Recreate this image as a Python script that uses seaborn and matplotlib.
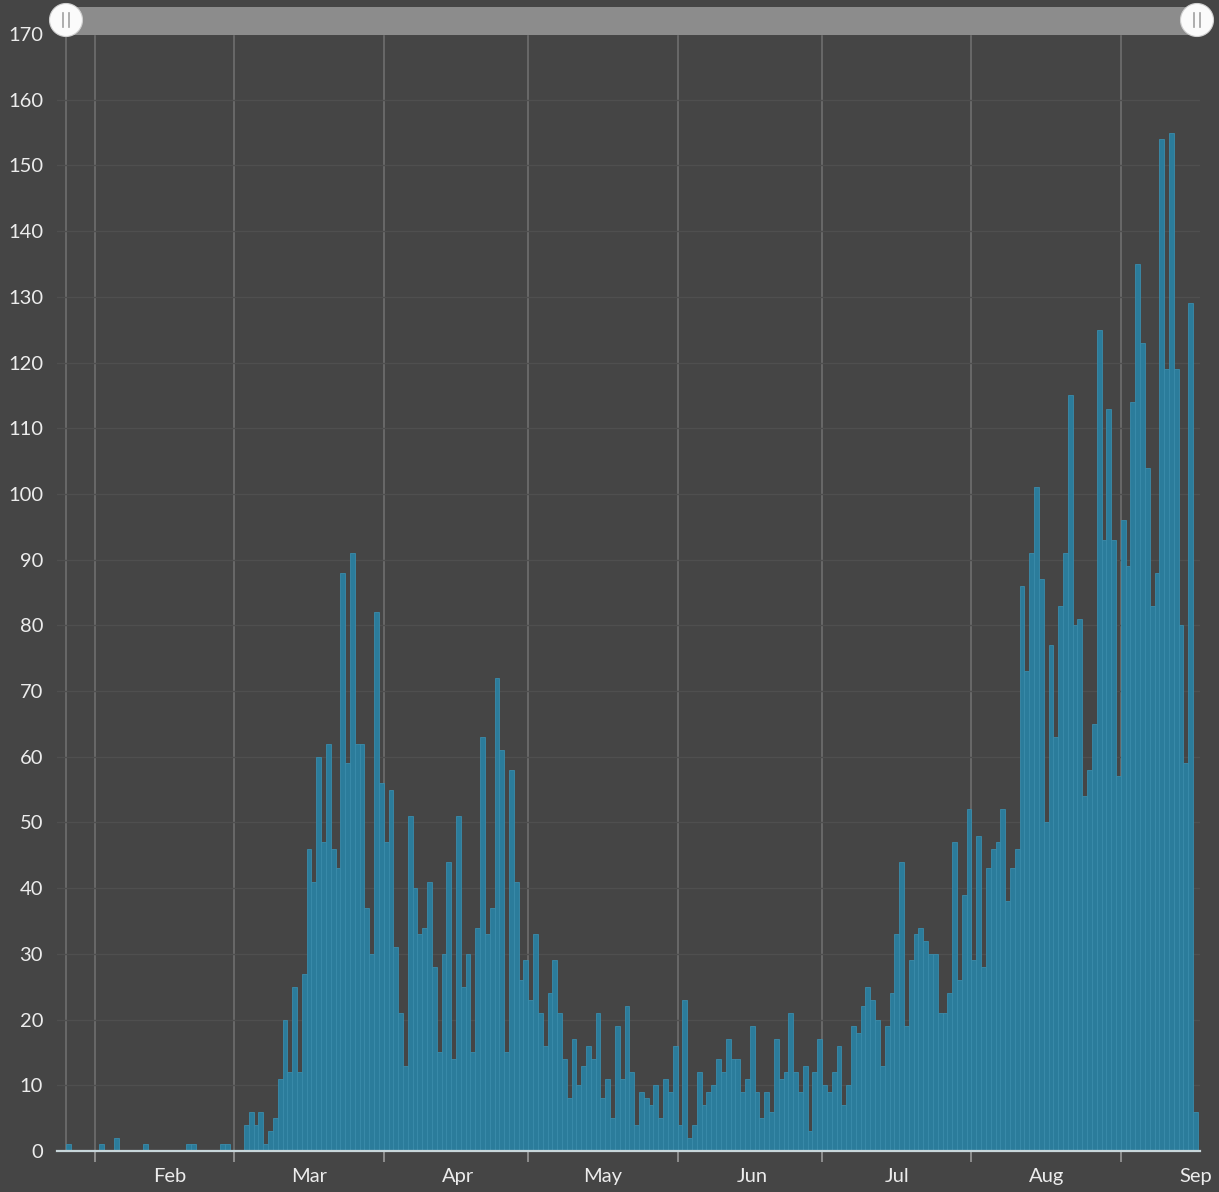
import numpy as np
import pandas as pd
import matplotlib
matplotlib.use("Agg")
import matplotlib.pyplot as plt
import seaborn as sns
from matplotlib.patches import Rectangle, Circle
from matplotlib.lines import Line2D

# ---------------- data (daily counts, 26 Jan - 16 Sep) ----------------
start_date = "2020-01-26"
jan = [1, 0, 0, 0, 0, 0]
feb = [0, 1, 0, 0, 2, 0, 0, 0, 0, 0, 1, 0, 0, 0, 0, 0, 0, 0, 0, 1, 1, 0, 0, 0, 0, 0, 1, 1, 0]
mar = [0, 0, 4, 6, 4, 6, 1, 3, 5, 11, 20, 12, 25, 12, 27, 46, 41, 60, 47, 62, 46, 43, 88, 59, 91, 62, 62, 37, 30, 82, 56]
apr = [47, 55, 31, 21, 13, 51, 40, 33, 34, 41, 28, 15, 30, 44, 14, 51, 25, 30, 15, 34, 63, 33, 37, 72, 61, 15, 58, 41, 26, 29]
may = [23, 33, 21, 16, 24, 29, 21, 14, 8, 17, 10, 13, 16, 14, 21, 8, 11, 5, 19, 11, 22, 12, 4, 9, 8, 7, 10, 5, 11, 9, 16]
jun = [4, 23, 2, 4, 12, 7, 9, 10, 14, 12, 17, 14, 14, 9, 11, 19, 9, 5, 9, 6, 17, 11, 12, 21, 12, 9, 13, 3, 12, 17]
jul = [10, 9, 12, 16, 7, 10, 19, 18, 22, 25, 23, 20, 13, 19, 24, 33, 44, 19, 29, 33, 34, 32, 30, 30, 21, 21, 24, 47, 26, 39, 52]
aug = [29, 48, 28, 43, 46, 47, 52, 38, 43, 46, 86, 73, 91, 101, 87, 50, 77, 63, 83, 91, 115, 80, 81, 54, 58, 65, 125, 93, 113, 93, 57]
sep = [96, 89, 114, 135, 123, 104, 83, 88, 154, 119, 155, 119, 80, 59, 129, 6]

month_labels = ["Feb", "Mar", "Apr", "May", "Jun", "Jul", "Aug", "Sep"]
month_starts = ["2020-02-01", "2020-03-01", "2020-04-01", "2020-05-01",
                "2020-06-01", "2020-07-01", "2020-08-01", "2020-09-01"]
label_days = ["2020-02-16", "2020-03-16", "2020-04-16", "2020-05-16",
              "2020-06-16", "2020-07-16", "2020-08-16", "2020-09-16"]
y_ticks = list(range(0, 171, 10))

values = jan + feb + mar + apr + may + jun + jul + aug + sep
t0 = pd.Timestamp(start_date)
df = pd.DataFrame({"day": np.arange(len(values)) + 0.5, "cases": values})

boundaries = [(pd.Timestamp(d) - t0).days for d in month_starts]
label_pos = [(pd.Timestamp(d) - t0).days + 0.5 for d in label_days]

# ---------------- style ----------------
BG = "#454545"
BAR = "#2b7c9b"
BAR_EDGE = "#3a8cab"
TXT = "#ececec"

W, H = 1219, 1192
plt.rcParams["font.family"] = ["Lato", "DejaVu Sans"]

fig = plt.figure(figsize=(W / 100, H / 100), dpi=100, facecolor=BG)
ax = fig.add_axes([57 / W, 41 / H, (1200 - 57) / W, (1151 - 34) / H])
ax.set_facecolor(BG)

sns.barplot(data=df, x="day", y="cases", native_scale=True, width=1,
            color=BAR, saturation=1, edgecolor=BAR_EDGE, linewidth=0.6,
            errorbar=None, ax=ax, zorder=3)

px_per_day = 4.818
ax.set_xlim((57 - 65.7) / px_per_day, (1200 - 65.7) / px_per_day)
ax.set_ylim(0, 170)

# grid + month lines
ax.set_yticks(y_ticks)
ax.grid(axis="y", color="#4f4f4f", lw=1.0, zorder=0)
ax.grid(axis="x", visible=False)
for b in [0] + boundaries:
    ax.axvline(b, color="#6f6f6f", lw=1.2, zorder=1)

# x ticks: boundary ticks (major) + month labels (minor)
ax.set_xticks(boundaries)
ax.set_xticklabels([""] * len(boundaries))
ax.set_xticks(label_pos, minor=True)
ax.set_xticklabels(month_labels, minor=True)
ax.tick_params(axis="x", which="major", length=8, width=1.2, color="#9a9a9a", direction="out")
ax.tick_params(axis="x", which="minor", length=0, pad=12, labelsize=14.5, labelcolor=TXT)
ax.tick_params(axis="y", length=0, pad=10, labelsize=14.5, labelcolor=TXT)
ax.set_xlabel("")
ax.set_ylabel("")

for s in ["top", "right", "left"]:
    ax.spines[s].set_visible(False)
ax.spines["bottom"].set_color("#c8d6da")
ax.spines["bottom"].set_linewidth(1.6)
ax.spines["bottom"].set_zorder(5)

# ---------------- range slider overlay ----------------
ov = fig.add_axes([0, 0, 1, 1], zorder=10)
ov.set_xlim(0, W)
ov.set_ylim(H, 0)
ov.axis("off")
ov.patch.set_alpha(0)
ov.add_patch(Rectangle((66, 6.5), 1197 - 66, 28.5, facecolor="#8c8c8c", edgecolor="none"))
for cx in (66, 1197):
    ov.add_patch(Circle((cx, 20), 16.5, facecolor="#fbfbfb", edgecolor="#d0d0d0", lw=0.8))
    for dx in (-2.6, 2.6):
        ov.add_line(Line2D([cx + dx, cx + dx], [13, 27], color="#a0a0a0", lw=1.2))

fig.savefig("out.png", dpi=100, facecolor=BG)
